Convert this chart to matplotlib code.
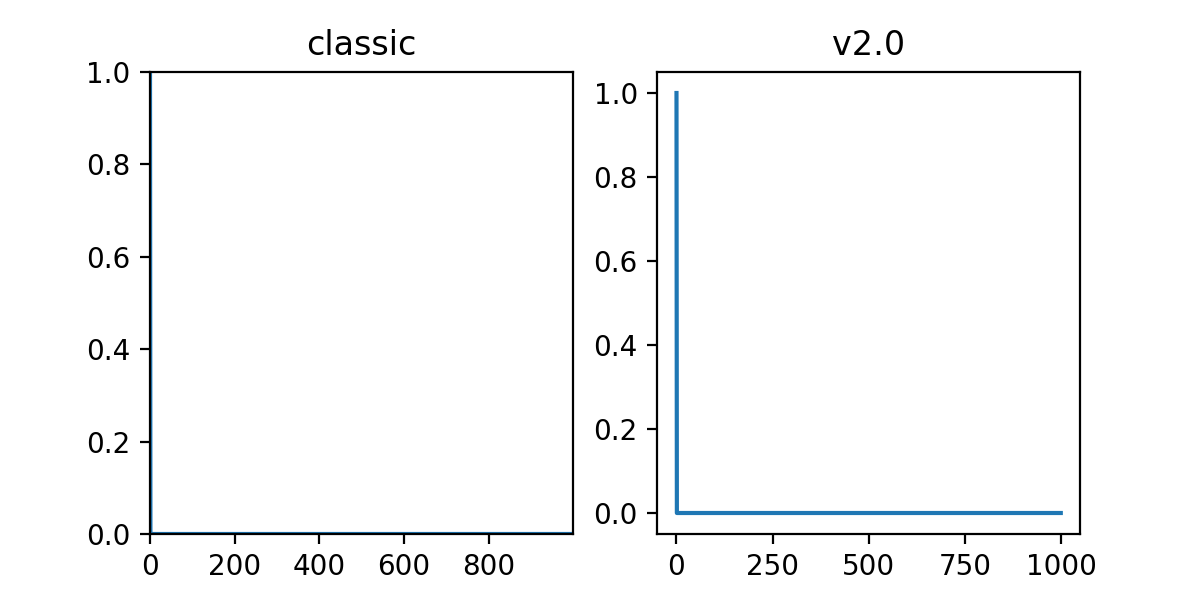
import numpy as np
import matplotlib.pyplot as plt

# signal: a single spike at the first sample, zero for the rest
n_samples = 1000
spike_value = 1.0
signal = np.zeros(n_samples)
signal[0] = spike_value

titles = ["classic", "v2.0"]

fig, axs = plt.subplots(1, 2, figsize=(6, 3), dpi=200)

# old-style autoscaling: no padding around the data
axs[0].plot(signal)
axs[0].margins(0)
axs[0].set_title(titles[0])

axs[1].plot(signal)
axs[1].set_title(titles[1])

plt.savefig("out.png")
